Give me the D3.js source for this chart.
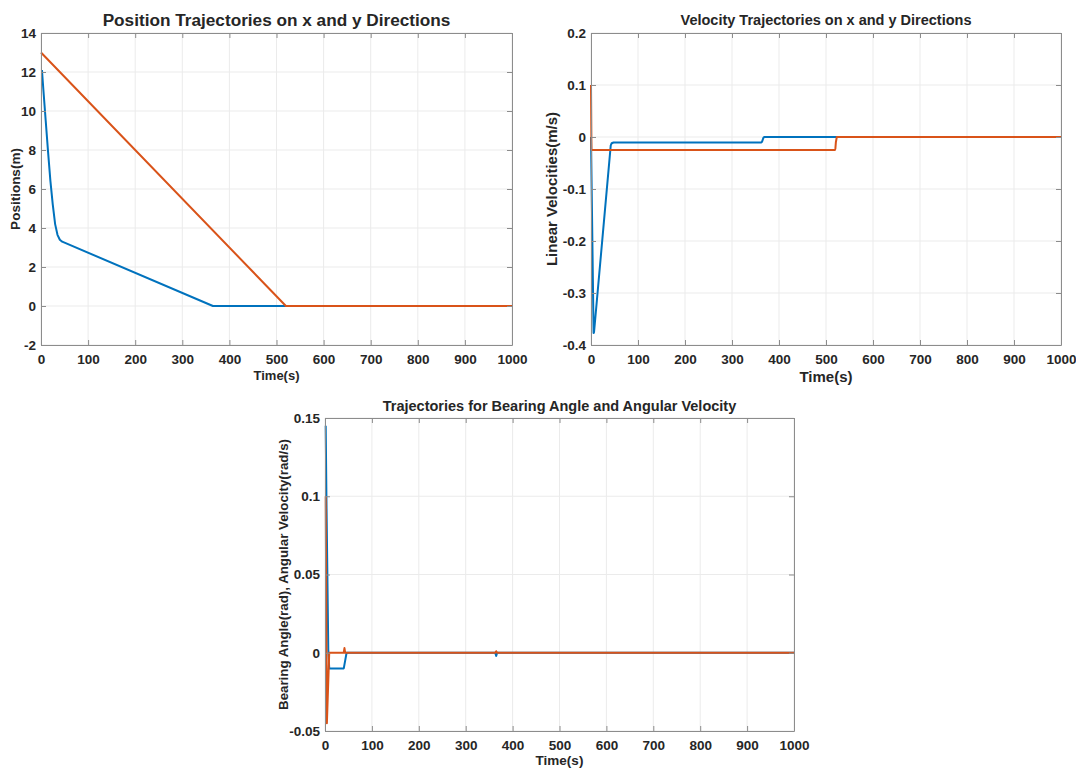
<!DOCTYPE html>
<html>
<head>
<meta charset="utf-8">
<script src="https://cdn.jsdelivr.net/npm/d3@7"></script>
<style>
  html, body { margin: 0; padding: 0; background: #fff; }
  svg { display: block; }
  text { font-family: "Liberation Sans", Arial, sans-serif; font-weight: bold; fill: #262626; }
</style>
</head>
<body>
<svg id="chart" width="1076" height="769"></svg>
<script>
// ---------------- DATA ----------------
const xTicks = [0, 100, 200, 300, 400, 500, 600, 700, 800, 900, 1000];
const xTickLabels = ["0", "100", "200", "300", "400", "500", "600", "700", "800", "900", "1000"];

// Chart 1: positions
const posTicks = [-2, 0, 2, 4, 6, 8, 10, 12, 14];
const posTickLabels = ["-2", "0", "2", "4", "6", "8", "10", "12", "14"];
const posXTime = [2, 5, 10, 15, 20, 25, 30, 35, 40, 45, 365, 1000];
const posXVal  = [12.1, 11.1, 9.5, 7.9, 6.4, 5.2, 4.2, 3.65, 3.4, 3.3, 0, 0];
const posYTime = [0, 520, 1000];
const posYVal  = [13, 0, 0];

// Chart 2: linear velocities
const velTicks = [-0.4, -0.3, -0.2, -0.1, 0, 0.1, 0.2];
const velTickLabels = ["-0.4", "-0.3", "-0.2", "-0.1", "0", "0.1", "0.2"];
const velXTime = [0, 5.5, 6.5, 42, 44, 48, 362, 364, 367, 369, 1000];
const velXVal  = [0, -0.377, -0.375, -0.016, -0.012, -0.0105, -0.0105, -0.009, -0.001, 0, 0];
const velYTime = [0, 1, 519, 520, 521, 523, 1000];
const velYVal  = [0.1, -0.025, -0.025, -0.022, -0.01, 0, 0];

// Chart 3: bearing angle / angular velocity
const angTicks = [-0.05, 0, 0.05, 0.1, 0.15];
const angTickLabels = ["-0.05", "0", "0.05", "0.1", "0.15"];
const angBTime = [1.5, 3, 7, 9, 40, 43, 46, 363, 365, 367, 1000];
const angBVal  = [0.145, 0.1, 0.002, -0.01, -0.01, -0.005, 0, 0, -0.002, 0, 0];
const angWTime = [1.5, 4, 9, 40, 41.5, 43, 363, 365, 367, 1000];
const angWVal  = [0.1, -0.045, 0, 0, 0.003, 0, 0, 0.001, 0, 0];

// ---------------- DRAW ----------------
const BLUE = "#0072BD", ORANGE = "#D95319";
const svg = d3.select("#chart");

function zip(t, v) { return t.map((d, i) => ({ t: d, v: v[i] })); }

function drawChart(cfg) {
  const { left, right, top, bottom } = cfg.box;
  const x = d3.scaleLinear().domain([0, 1000]).range([left, right]);
  const y = d3.scaleLinear().domain(cfg.yDomain).range([bottom, top]);
  const g = svg.append("g");
  const id = "clip" + cfg.id;
  svg.append("defs").append("clipPath").attr("id", id)
    .append("rect").attr("x", left - 1).attr("y", top).attr("width", right - left + 1).attr("height", bottom - top);

  // grid
  g.append("g").selectAll("line").data(xTicks).join("line")
    .attr("x1", d => x(d)).attr("x2", d => x(d)).attr("y1", top).attr("y2", bottom)
    .attr("stroke", "#ebebeb").attr("stroke-width", 1);
  g.append("g").selectAll("line").data(cfg.yTicks).join("line")
    .attr("x1", left).attr("x2", right).attr("y1", d => y(d)).attr("y2", d => y(d))
    .attr("stroke", "#ebebeb").attr("stroke-width", 1);

  // lines
  const line = d3.line().x(d => x(d.t)).y(d => y(d.v));
  const lg = g.append("g").attr("clip-path", `url(#${id})`);
  cfg.series.forEach(s => {
    lg.append("path").datum(zip(s.t, s.v)).attr("d", line)
      .attr("fill", "none").attr("stroke", s.color).attr("stroke-width", 2)
      .attr("stroke-linejoin", "round");
  });

  // axes (MATLAB style: inward ticks on all sides)
  const tl = 5;
  const fmt = (vals, labels) => (d => labels[vals.indexOf(d)]);
  const axB = d3.axisBottom(x).tickValues(xTicks).tickSizeInner(-tl).tickSizeOuter(0).tickPadding(9)
    .tickFormat(fmt(xTicks, xTickLabels));
  const axT = d3.axisTop(x).tickValues(xTicks).tickSizeInner(-tl).tickSizeOuter(0).tickFormat("");
  const axL = d3.axisLeft(y).tickValues(cfg.yTicks).tickSizeInner(-tl).tickSizeOuter(0).tickPadding(5)
    .tickFormat(fmt(cfg.yTicks, cfg.yLabels));
  const axR = d3.axisRight(y).tickValues(cfg.yTicks).tickSizeInner(-tl).tickSizeOuter(0).tickFormat("");

  const style = sel => {
    sel.select(".domain").attr("stroke", "#8c8c8c");
    sel.selectAll(".tick line").attr("stroke", "#8c8c8c");
    sel.selectAll(".tick text").attr("font-size", cfg.tickSize + "px")
      .attr("font-family", '"Liberation Sans", Arial, sans-serif').attr("font-weight", "bold").attr("fill", "#262626");
  };
  g.append("g").attr("transform", `translate(0,${bottom})`).call(axB).call(style);
  g.append("g").attr("transform", `translate(0,${top})`).call(axT).call(style);
  g.append("g").attr("transform", `translate(${left},0)`).call(axL).call(style);
  g.append("g").attr("transform", `translate(${right},0)`).call(axR).call(style);

  // texts
  const cx = (left + right) / 2;
  g.append("text").attr("x", cx).attr("y", cfg.titleY).attr("text-anchor", "middle")
    .attr("font-size", cfg.titleSize + "px").attr("fill", "#000").text(cfg.title);
  g.append("text").attr("x", cx).attr("y", cfg.xLabelY).attr("text-anchor", "middle")
    .attr("dominant-baseline", "middle").attr("font-size", cfg.xLabelSize + "px").text("Time(s)");
  g.append("text").attr("transform", `translate(${cfg.yLabelX},${(top + bottom) / 2}) rotate(-90)`)
    .attr("text-anchor", "middle").attr("dominant-baseline", "middle")
    .attr("font-size", cfg.yLabelSize + "px").text(cfg.yLabel);
}

drawChart({
  id: 1, box: { left: 41, right: 512, top: 33, bottom: 345 },
  yDomain: [-2, 14], yTicks: posTicks, yLabels: posTickLabels,
  series: [{ t: posXTime, v: posXVal, color: BLUE }, { t: posYTime, v: posYVal, color: ORANGE }],
  title: "Position Trajectories on x and y Directions", titleY: 26, titleSize: 17.2,
  xLabelY: 377, xLabelSize: 13, yLabel: "Positions(m)", yLabelX: 16, yLabelSize: 13.5, tickSize: 13.5
});

drawChart({
  id: 2, box: { left: 591, right: 1061, top: 33, bottom: 345 },
  yDomain: [-0.4, 0.2], yTicks: velTicks, yLabels: velTickLabels,
  series: [{ t: velXTime, v: velXVal, color: BLUE }, { t: velYTime, v: velYVal, color: ORANGE }],
  title: "Velocity Trajectories on x and y Directions", titleY: 25, titleSize: 14.5,
  xLabelY: 378, xLabelSize: 15, yLabel: "Linear Velocities(m/s)", yLabelX: 553, yLabelSize: 15, tickSize: 13.5
});

drawChart({
  id: 3, box: { left: 325, right: 794, top: 418, bottom: 731 },
  yDomain: [-0.05, 0.15], yTicks: angTicks, yLabels: angTickLabels,
  series: [{ t: angBTime, v: angBVal, color: BLUE }, { t: angWTime, v: angWVal, color: ORANGE }],
  title: "Trajectories for Bearing Angle and Angular Velocity", titleY: 411, titleSize: 14.5,
  xLabelY: 761, xLabelSize: 13.5, yLabel: "Bearing Angle(rad), Angular Velocity(rad/s)", yLabelX: 284, yLabelSize: 13.3, tickSize: 13.5
});
</script>
</body>
</html>
